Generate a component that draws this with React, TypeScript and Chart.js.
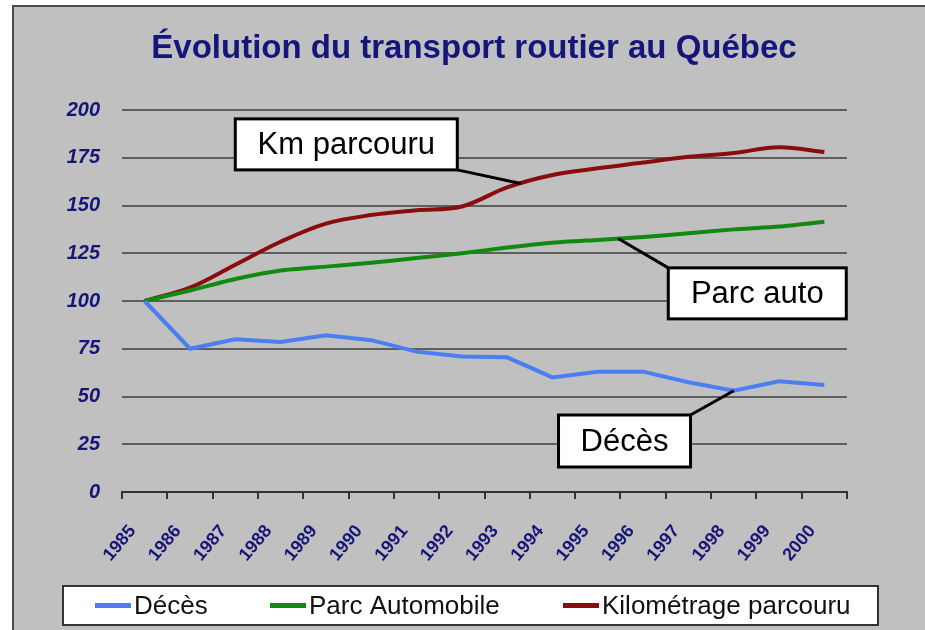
import React, { useEffect, useRef } from "react";
import { Chart, registerables } from "chart.js";

Chart.register(...registerables);

const years = ["1985", "1986", "1987", "1988", "1989", "1990", "1991", "1992", "1993", "1994", "1995", "1996", "1997", "1998", "1999", "2000"];
const deces = [100, 75, 80, 78.5, 82, 79.5, 73.5, 71, 70.5, 60, 63, 63, 57.5, 53, 58, 56];
const parcAutomobile = [100, 105.5, 111.5, 116, 118, 120, 122.5, 125, 128, 130.5, 132, 133.5, 135.5, 137.5, 139, 141.5];
const kilometrage = [100, 107, 119, 131, 140.5, 145, 147.5, 149.5, 159.5, 166, 169.5, 172.5, 175.5, 177.5, 180.5, 178];
const yTicks = [0, 25, 50, 75, 100, 125, 150, 175, 200];
const seriesLabels = ["Décès", "Parc Automobile", "Kilométrage parcouru"];
const titleText = "Évolution du transport routier au Québec";

// callout annotations: box centre and leader target in data space (category index, value)
const callouts = [
  { text: "Km parcouru", cx: 4.45, cy: 182, w: 222, h: 51, corner: "br", tx: 8.3, ty: 161.5 },
  { text: "Parc auto", cx: 13.52, cy: 104, w: 178, h: 51, corner: "tl", tx: 10.45, ty: 132.7 },
  { text: "Décès", cx: 10.59, cy: 26.7, w: 132, h: 52, corner: "tr", tx: 13.0, ty: 53 },
];

const COLORS = ["#4a7ef2", "#108a10", "#8a0c0c"];
const NAVY = "#16167a";
const FONT = "'Liberation Sans', Arial, sans-serif";

const backgroundPlugin = {
  id: "panelBackground",
  beforeDraw(chart: any) {
    const { ctx, width, height } = chart;
    ctx.save();
    ctx.fillStyle = "#ffffff";
    ctx.fillRect(0, 0, width, height);
    ctx.fillStyle = "#c0c0c0";
    ctx.fillRect(13, 6, width - 13, height - 6);
    ctx.strokeStyle = "#4a4a4a";
    ctx.lineWidth = 2;
    ctx.beginPath();
    ctx.moveTo(13, height);
    ctx.lineTo(13, 6);
    ctx.lineTo(width, 6);
    ctx.stroke();
    ctx.restore();
  },
};

const calloutPlugin = {
  id: "callouts",
  afterDatasetsDraw(chart: any) {
    const { ctx } = chart;
    const xs = chart.scales.x;
    const ys = chart.scales.y;
    ctx.save();
    callouts.forEach((c) => {
      const cx = xs.getPixelForValue(c.cx);
      const cy = ys.getPixelForValue(c.cy);
      const left = cx - c.w / 2;
      const top = cy - c.h / 2;
      const sx = c.corner.includes("r") ? left + c.w : left;
      const sy = c.corner.includes("b") ? top + c.h : top;
      ctx.strokeStyle = "#000";
      ctx.lineWidth = 3;
      ctx.beginPath();
      ctx.moveTo(sx, sy);
      ctx.lineTo(xs.getPixelForValue(c.tx), ys.getPixelForValue(c.ty));
      ctx.stroke();
      ctx.fillStyle = "#fff";
      ctx.fillRect(left, top, c.w, c.h);
      ctx.strokeRect(left, top, c.w, c.h);
      ctx.fillStyle = "#000";
      ctx.font = `31px ${FONT}`;
      ctx.textAlign = "center";
      ctx.textBaseline = "middle";
      ctx.fillText(c.text, cx, cy + 1);
    });
    ctx.restore();
  },
};

const legendPlugin = {
  id: "boxLegend",
  afterDraw(chart: any) {
    const { ctx } = chart;
    const boxL = 63, boxT = 586, boxW = 815, boxH = 39;
    ctx.save();
    ctx.fillStyle = "#fff";
    ctx.fillRect(boxL, boxT, boxW, boxH);
    ctx.strokeStyle = "#333";
    ctx.lineWidth = 2;
    ctx.strokeRect(boxL, boxT, boxW, boxH);
    const starts = [95, 270, 563];
    ctx.font = `26px ${FONT}`;
    ctx.textBaseline = "middle";
    ctx.textAlign = "left";
    chart.data.datasets.forEach((ds: any, i: number) => {
      const x = starts[i];
      const y = boxT + boxH / 2;
      ctx.fillStyle = ds.borderColor;
      ctx.fillRect(x, y - 2.5, 36, 5);
      ctx.fillStyle = "#111";
      ctx.fillText(ds.label, x + 39, y + 1);
    });
    ctx.restore();
  },
};

export default function App() {
  const ref = useRef<HTMLCanvasElement | null>(null);
  useEffect(() => {
    if (!ref.current) return;
    const chart = new Chart(ref.current, {
      type: "line",
      data: {
        labels: years,
        datasets: [
          { label: seriesLabels[0], data: deces, borderColor: COLORS[0], backgroundColor: COLORS[0], borderWidth: 4, pointRadius: 0, tension: 0, yAxisID: "y" },
          { label: seriesLabels[1], data: parcAutomobile, borderColor: COLORS[1], backgroundColor: COLORS[1], borderWidth: 4, pointRadius: 0, tension: 0.2, yAxisID: "y" },
          { label: seriesLabels[2], data: kilometrage, borderColor: COLORS[2], backgroundColor: COLORS[2], borderWidth: 4, pointRadius: 0, tension: 0.35, yAxisID: "y" },
        ],
      },
      options: {
        responsive: false,
        animation: false,
        devicePixelRatio: 1,
        layout: { padding: { left: 50, right: 27, top: 0, bottom: 48 } },
        plugins: {
          legend: { display: false },
          tooltip: { enabled: false },
          title: {
            display: true,
            text: titleText,
            color: NAVY,
            font: { family: FONT, size: 33, weight: "bold" },
            padding: { top: 29, bottom: 41.4 },
          },
        },
        scales: {
          x: {
            type: "category",
            offset: true,
            grid: { offset: true, drawOnChartArea: false, drawTicks: true, tickLength: 7, color: "#333", lineWidth: 2 },
            border: { display: true, color: "#333", width: 2 },
            ticks: {
              autoSkip: false,
              maxRotation: 50,
              minRotation: 50,
              padding: 22,
              labelOffset: -12,
              color: NAVY,
              font: { family: FONT, size: 18, weight: "bold" },
            },
            afterFit(scale: any) { scale.height = 90; },
          },
          y: {
            position: "left",
            min: 0,
            max: 200,
            afterBuildTicks(scale: any) { scale.ticks = yTicks.map((v) => ({ value: v })); },
            grid: { color: "#5e5e5e", lineWidth: 2, drawTicks: false },
            border: { display: false },
            ticks: {
              padding: 22,
              color: NAVY,
              font: { family: FONT, size: 20, weight: "bold", style: "italic" },
            },
            afterFit(scale: any) { scale.width = 72; },
          },
          yRight: {
            position: "right",
            display: true,
            min: 0,
            max: 200,
            grid: { display: false, drawTicks: false },
            border: { display: false },
            ticks: { display: false },
            afterFit(scale: any) { scale.width = 51; },
          },
        },
      },
      plugins: [backgroundPlugin, calloutPlugin, legendPlugin],
    } as any);
    return () => chart.destroy();
  }, []);
  return (
    <div style={{ position: "absolute", left: 0, top: 0, width: 925, height: 630 }}>
      <canvas ref={ref} width={925} height={630} />
    </div>
  );
}
